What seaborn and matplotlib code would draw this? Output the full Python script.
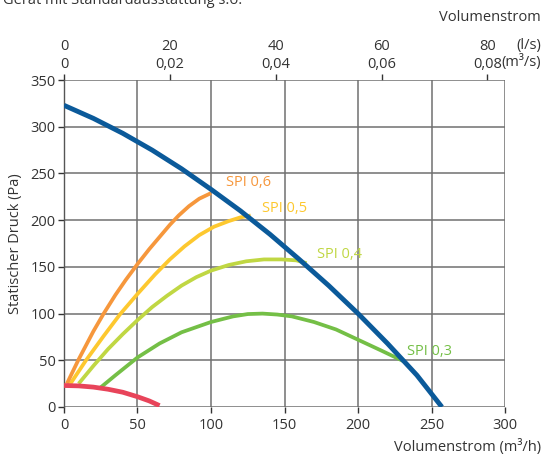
import matplotlib
matplotlib.use("Agg")
import matplotlib.pyplot as plt
import seaborn as sns

# fan curve (blue)
fan_x = [0, 20, 40, 60, 80, 100, 120, 140, 160, 180, 200, 220, 240, 257]
fan_y = [323, 309, 293, 275, 255, 233, 210, 185, 158, 130, 100, 68, 34, 0]

# SPI curves
spi06_x = [2, 10, 20, 27, 35, 42, 50, 58, 65, 72, 78, 85, 92, 100]
spi06_y = [25, 51, 81, 100, 120, 136, 153, 169, 182, 195, 205, 215, 223, 229]
spi05_x = [4, 15, 27, 38, 50, 62, 72, 82, 92, 102, 112, 120, 127]
spi05_y = [24, 50, 76, 99, 121, 142, 158, 172, 184, 193, 199, 203, 205]
spi04_x = [10, 20, 30, 40, 50, 60, 70, 80, 90, 100, 112, 124, 136, 148, 158, 165]
spi04_y = [25, 44, 62, 78, 93, 107, 119, 130, 139, 146, 152, 156, 158, 158, 157, 154]
spi03_x = [25, 35, 50, 65, 80, 100, 115, 125, 135, 145, 155, 170, 185, 200, 215, 231]
spi03_y = [21, 34, 53, 68, 80, 91, 97, 99.5, 100, 99, 97, 91, 83, 72, 61, 49]
# red curve
red_x = [0, 10, 20, 30, 40, 50, 58, 65]
red_y = [23, 22.6, 21.3, 19, 15.8, 11, 6.5, 1.5]

spi_labels = ["SPI 0,6", "SPI 0,5", "SPI 0,4", "SPI 0,3"]
label_pos = [(110, 240), (135, 212), (172, 163), (233, 59)]

x_ticks = [0, 50, 100, 150, 200, 250, 300]
y_ticks = [0, 50, 100, 150, 200, 250, 300, 350]
top_ls = [0, 20, 40, 60, 80]
top_m3s = ["0", "0,02", "0,04", "0,06", "0,08"]

c_blue = "#0b5a9a"
c_orange = "#f6973c"
c_yellow = "#fdc82f"
c_lime = "#c0d743"
c_green = "#74bf46"
c_red = "#e8445a"
txt = "#333333"

sns.set_style("white")
plt.rcParams["font.family"] = ["Open Sans", "DejaVu Sans"]

fig = plt.figure(figsize=(5.42, 4.55), dpi=100)
ax = fig.add_axes([0.118, 0.1055, 0.814, 0.7185])

curves = [(spi03_x, spi03_y, c_green, 2.7), (spi04_x, spi04_y, c_lime, 2.7),
          (spi05_x, spi05_y, c_yellow, 2.7), (spi06_x, spi06_y, c_orange, 2.7),
          (red_x, red_y, c_red, 3.4), (fan_x, fan_y, c_blue, 3.5)]
for xs, ys, c, w in curves:
    sns.lineplot(x=xs, y=ys, color=c, lw=w, ax=ax, solid_capstyle="butt",
                 solid_joinstyle="round", zorder=3)

for lab, (lx, ly), c in zip(spi_labels, label_pos, [c_orange, c_yellow, c_lime, c_green]):
    ax.text(lx, ly, lab, color=c, fontsize=10.5, va="center", ha="left", zorder=4)

ax.set_xlim(0, 300)
ax.set_ylim(0, 350)
ax.set_xticks(x_ticks)
ax.set_yticks(y_ticks)
ax.grid(True, color="#707070", lw=1.1)
ax.set_axisbelow(True)
for s in ["top", "right", "bottom"]:
    ax.spines[s].set_visible(False)
ax.spines["left"].set_color("#555555")
ax.spines["left"].set_linewidth(1)
ax.tick_params(axis="both", colors=txt, labelsize=10.5, length=4, width=1,
               direction="out", bottom=True, left=True, pad=2)
ax.tick_params(axis="x", pad=4)
ax.set_ylabel("Statischer Druck (Pa)", color=txt, fontsize=10.5, labelpad=5)

sec = ax.secondary_xaxis("top", functions=(lambda v: v / 3.6, lambda v: v * 3.6))
sec.set_xticks(top_ls)
sec.set_xticklabels([f"{a}\n{b}" for a, b in zip(top_ls, top_m3s)], linespacing=1.25)
sec.tick_params(colors=txt, labelsize=10.5, length=4, width=1, direction="out", pad=2)
sec.spines["top"].set_visible(False)

fig.text(0.998, 0.901, "(l/s)", ha="right", va="center", fontsize=10.5, color=txt)
fig.text(0.998, 0.864, "(m³/s)", ha="right", va="center", fontsize=10.5, color=txt)
fig.text(0.998, 0.962, "Volumenstrom", ha="right", va="center", fontsize=10.5, color=txt)
fig.text(0.998, 0.017, "Volumenstrom (m³/h)", ha="right", va="center", fontsize=10.5, color=txt)
fig.text(0.005, 1.0, "Gerät mit Standardausstattung s.o.", ha="left", va="center",
         fontsize=10.5, color=txt)

fig.savefig("out.png", dpi=100)
